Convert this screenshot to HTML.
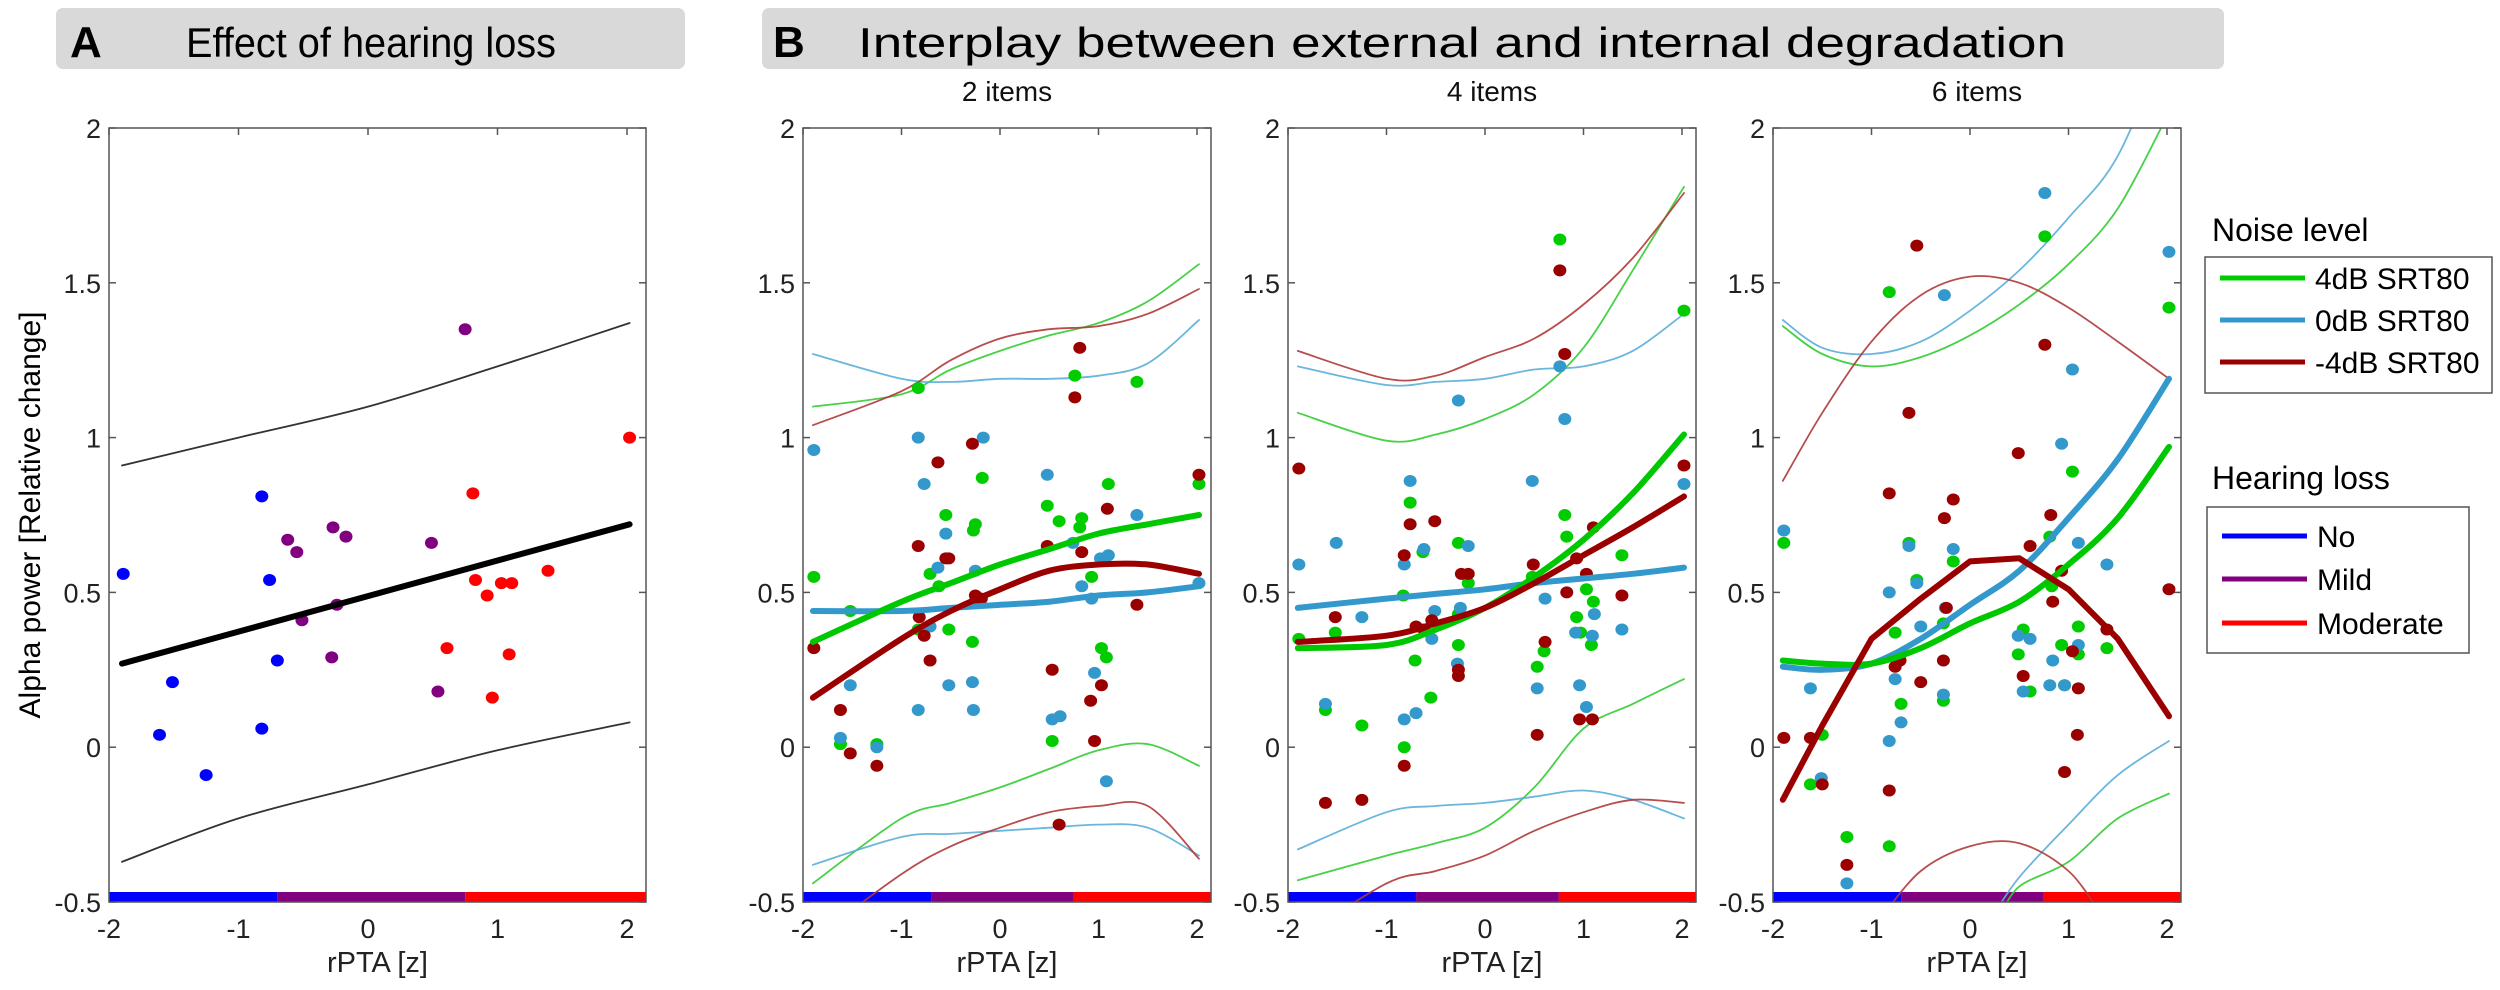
<!DOCTYPE html>
<html><head><meta charset="utf-8"><style>
html,body{margin:0;padding:0;background:#fff;overflow:hidden;width:2500px;height:990px;}
svg{display:block;font-family:"Liberation Sans",Arial,sans-serif;}
</style></head><body>
<svg id="fig" width="2500" height="990" viewBox="0 0 2500 990" xmlns="http://www.w3.org/2000/svg">
  <defs>
    <clipPath id="clipA"><rect x="109" y="128" width="537" height="774"/></clipPath>
    <clipPath id="clip1"><rect x="803" y="128" width="408" height="774"/></clipPath>
    <clipPath id="clip2"><rect x="1288" y="128" width="408" height="774"/></clipPath>
    <clipPath id="clip3"><rect x="1773" y="128" width="408" height="774"/></clipPath>
  </defs>
  <g>
    <rect x="56" y="8" width="629" height="61" rx="7" fill="#d9d9d9"/>
    <text x="70" y="57" font-size="44" font-weight="bold">A</text>
    <text x="186" y="57" font-size="42" textLength="370" lengthAdjust="spacingAndGlyphs">Effect of hearing loss</text>
  </g>
  <g>
    <rect x="762" y="8" width="1462" height="61" rx="7" fill="#d9d9d9"/>
    <text x="773" y="57" font-size="44" font-weight="bold">B</text>
    <text x="858" y="57" font-size="42" textLength="1208" lengthAdjust="spacingAndGlyphs">Interplay between external and internal degradation</text>
  </g>
  <text transform="translate(40,515) rotate(-90)" font-size="30" text-anchor="middle">Alpha power [Relative change]</text>
  <g id="plots"></g>
  <g>
    <text x="2212" y="241" font-size="32">Noise level</text>
    <rect x="2205" y="257" width="287" height="136" fill="#fff" stroke="#555" stroke-width="1.5"/>
    <line x1="2220" y1="278" x2="2305" y2="278" stroke="#00cc00" stroke-width="5"/>
    <text x="2315" y="289" font-size="30">4dB SRT80</text>
    <line x1="2220" y1="320" x2="2305" y2="320" stroke="#3399cc" stroke-width="5"/>
    <text x="2315" y="331" font-size="30">0dB SRT80</text>
    <line x1="2220" y1="362" x2="2305" y2="362" stroke="#990000" stroke-width="5"/>
    <text x="2315" y="373" font-size="30">-4dB SRT80</text>
  </g>
  <g>
    <text x="2212" y="489" font-size="32">Hearing loss</text>
    <rect x="2207" y="507" width="262" height="146" fill="#fff" stroke="#555" stroke-width="1.5"/>
    <line x1="2222" y1="536" x2="2307" y2="536" stroke="#0000ff" stroke-width="5"/>
    <text x="2317" y="547" font-size="30">No</text>
    <line x1="2222" y1="579" x2="2307" y2="579" stroke="#800080" stroke-width="5"/>
    <text x="2317" y="590" font-size="30">Mild</text>
    <line x1="2222" y1="623" x2="2307" y2="623" stroke="#ff0000" stroke-width="5"/>
    <text x="2317" y="634" font-size="30">Moderate</text>
  </g>
</svg>
<script>
// ---------- data ----------
const yTicks = [-0.5, 0, 0.5, 1, 1.5, 2];
const yTickLabels = ["-0.5", "0", "0.5", "1", "1.5", "2"];
const xTicks = [-2, -1, 0, 1, 2];
const xTickLabels = ["-2", "-1", "0", "1", "2"];
const hearingBreaks = [-0.7, 0.75];
const subplotTitles = ["2 items", "4 items", "6 items"];

// Panel A
const aNoX = [-1.89, -0.82, -0.76, -0.70, -1.51, -1.61, -0.82, -1.25];
const aNoY = [0.56, 0.81, 0.54, 0.28, 0.21, 0.04, 0.06, -0.09];
const aMildX = [0.75, -0.27, -0.17, -0.62, -0.55, 0.49, -0.24, -0.51, -0.28, 0.54];
const aMildY = [1.35, 0.71, 0.68, 0.67, 0.63, 0.66, 0.46, 0.41, 0.29, 0.18];
const aModX = [2.02, 0.81, 0.83, 0.92, 1.03, 1.11, 1.39, 0.61, 1.09, 0.96];
const aModY = [1.00, 0.82, 0.54, 0.49, 0.53, 0.53, 0.57, 0.32, 0.30, 0.16];
const aFitX = [-1.9, 2.02];
const aFitY = [0.27, 0.72];
const aCiX = [-1.9, -1, 0, 1, 2.02];
const aCiUpper = [0.91, 1.00, 1.10, 1.23, 1.37];
const aCiLower = [-0.37, -0.23, -0.12, -0.01, 0.08];

// Panel B, plot 1 (2 items)
const p1GreenX = [-0.83, 0.76, 1.39, -0.18, 1.10, 2.02, 0.48, 0.60, 0.83, 0.81, -0.55, -0.25, -0.27, -1.89, -0.71, -0.62, 0.93, -1.52, -0.83, -0.52, -0.28, 1.03, 1.08, -1.62, -1.25, 0.53];
const p1GreenY = [1.16, 1.20, 1.18, 0.87, 0.85, 0.85, 0.78, 0.73, 0.74, 0.71, 0.75, 0.72, 0.70, 0.55, 0.56, 0.52, 0.55, 0.44, 0.38, 0.38, 0.34, 0.32, 0.29, 0.01, 0.01, 0.02];
const p1BlueX = [-1.89, -0.83, -0.17, -0.77, 0.48, -0.55, -0.63, -0.25, 0.74, 1.02, 1.10, 1.39, 0.83, 0.93, 2.02, -0.71, -1.52, -0.52, -0.28, -0.83, -0.27, -1.62, -1.25, 0.53, 0.61, 0.96, 1.08];
const p1BlueY = [0.96, 1.00, 1.00, 0.85, 0.88, 0.69, 0.58, 0.57, 0.66, 0.61, 0.62, 0.75, 0.52, 0.48, 0.53, 0.39, 0.20, 0.20, 0.21, 0.12, 0.12, 0.03, 0.00, 0.09, 0.10, 0.24, -0.11];
const p1RedX = [0.81, 0.76, -0.28, -0.63, 2.02, 1.09, -0.83, 0.48, -0.55, -0.52, 0.83, -0.25, -0.19, -0.25, 1.39, -0.82, -0.77, -1.89, -0.71, 0.53, 1.03, 0.92, -1.62, -1.52, -1.25, 0.96, 0.60];
const p1RedY = [1.29, 1.13, 0.98, 0.92, 0.88, 0.77, 0.65, 0.65, 0.61, 0.61, 0.63, 0.49, 0.48, 0.47, 0.46, 0.42, 0.36, 0.32, 0.28, 0.25, 0.20, 0.15, 0.12, -0.02, -0.06, 0.02, -0.25];
const p1FitX = [-1.9, -1, -0.5, 0, 0.5, 1, 1.5, 2.02];
const p1GreenFit = [0.34, 0.47, 0.53, 0.59, 0.64, 0.69, 0.72, 0.75];
const p1BlueFit = [0.44, 0.44, 0.45, 0.46, 0.47, 0.49, 0.50, 0.52];
const p1RedFit = [0.16, 0.35, 0.44, 0.51, 0.57, 0.59, 0.59, 0.56];
const p1GreenUp = [1.10, 1.14, 1.22, 1.28, 1.33, 1.37, 1.44, 1.56];
const p1RedUp = [1.04, 1.15, 1.25, 1.32, 1.35, 1.36, 1.40, 1.48];
const p1BlueUp = [1.27, 1.19, 1.18, 1.19, 1.19, 1.20, 1.24, 1.38];
const p1GreenLo = [-0.44, -0.23, -0.18, -0.13, -0.07, -0.01, 0.01, -0.06];
const p1RedLo = [-0.62, -0.41, -0.32, -0.26, -0.21, -0.19, -0.19, -0.36];
const p1BlueLo = [-0.38, -0.29, -0.28, -0.27, -0.26, -0.25, -0.26, -0.35];

// Panel B, plot 2 (4 items)
const p2GreenX = [0.76, 2.02, 0.81, -0.76, 0.83, -0.27, -0.63, 1.39, 0.48, -0.17, 1.03, 1.10, -0.83, -1.89, -1.52, -0.27, 0.93, 0.97, 1.08, -0.27, -0.71, 0.60, 0.53, -0.55, -1.62, -1.25, -0.82];
const p2GreenY = [1.64, 1.41, 0.75, 0.79, 0.68, 0.66, 0.63, 0.62, 0.55, 0.53, 0.51, 0.47, 0.49, 0.35, 0.37, 0.43, 0.42, 0.37, 0.33, 0.33, 0.28, 0.31, 0.26, 0.16, 0.12, 0.07, 0.00];
const p2BlueX = [0.76, -0.27, 0.81, 2.02, 0.48, -0.76, -1.51, -0.17, -0.62, -1.89, -0.82, -0.51, -0.25, 0.61, -1.25, 1.11, 0.92, 1.09, 1.39, -0.54, -0.28, 0.53, 0.96, 1.03, -1.62, -0.82, -0.70];
const p2BlueY = [1.23, 1.12, 1.06, 0.85, 0.86, 0.86, 0.66, 0.65, 0.64, 0.59, 0.59, 0.44, 0.45, 0.48, 0.42, 0.43, 0.37, 0.36, 0.38, 0.35, 0.27, 0.19, 0.20, 0.13, 0.14, 0.09, 0.11];
const p2RedX = [0.76, 0.81, 2.02, -1.89, -0.76, -0.51, 1.10, -0.82, 0.93, 0.49, -0.24, -0.17, 1.03, 0.83, 1.39, -1.52, -0.70, -0.54, -0.62, 0.61, -0.27, -0.27, 0.96, 1.09, 0.53, -0.82, -1.62, -1.25];
const p2RedY = [1.54, 1.27, 0.91, 0.90, 0.72, 0.73, 0.71, 0.62, 0.61, 0.59, 0.56, 0.56, 0.56, 0.50, 0.49, 0.42, 0.39, 0.41, 0.38, 0.34, 0.25, 0.23, 0.09, 0.09, 0.04, -0.06, -0.18, -0.17];
const p2FitX = [-1.9, -1, -0.5, 0, 0.5, 1, 1.5, 2.02];
const p2GreenFit = [0.32, 0.33, 0.38, 0.45, 0.55, 0.67, 0.82, 1.01];
const p2BlueFit = [0.45, 0.48, 0.495, 0.51, 0.53, 0.545, 0.56, 0.58];
const p2RedFit = [0.34, 0.36, 0.40, 0.45, 0.53, 0.62, 0.71, 0.81];
const p2GreenUp = [1.08, 0.99, 1.01, 1.06, 1.14, 1.29, 1.54, 1.81];
const p2RedUp = [1.28, 1.19, 1.20, 1.26, 1.32, 1.43, 1.58, 1.79];
const p2BlueUp = [1.23, 1.17, 1.18, 1.19, 1.22, 1.23, 1.28, 1.40];
const p2GreenLo = [-0.43, -0.35, -0.31, -0.26, -0.13, 0.06, 0.14, 0.22];
const p2RedLo = [-0.62, -0.44, -0.40, -0.35, -0.27, -0.21, -0.17, -0.18];
const p2BlueLo = [-0.33, -0.21, -0.19, -0.18, -0.16, -0.14, -0.17, -0.23];

// Panel B, plot 3 (6 items)
const p3GreenX = [0.76, 2.02, -0.82, 1.04, -1.89, -0.62, -0.17, 0.81, -0.54, 0.83, 1.10, -0.27, -0.76, 0.54, 0.93, 1.39, 0.49, 1.10, -0.70, -0.27, 0.61, 0.96, -1.50, -1.62, -1.25, -0.82];
const p3GreenY = [1.65, 1.42, 1.47, 0.89, 0.66, 0.66, 0.60, 0.68, 0.54, 0.52, 0.39, 0.40, 0.37, 0.38, 0.33, 0.32, 0.30, 0.30, 0.14, 0.15, 0.18, 0.20, 0.04, -0.12, -0.29, -0.32];
const p3BlueX = [0.76, 2.02, -0.26, 1.04, 0.93, -1.89, -0.62, -0.17, 1.10, 1.39, -0.82, -0.54, -0.50, -0.25, 0.49, 0.61, 1.10, 0.84, -0.76, -1.62, 0.54, 0.81, 0.96, -0.27, -0.70, -0.82, -1.51, -1.25];
const p3BlueY = [1.79, 1.60, 1.46, 1.22, 0.98, 0.70, 0.65, 0.64, 0.66, 0.59, 0.50, 0.53, 0.39, 0.45, 0.36, 0.35, 0.33, 0.28, 0.22, 0.19, 0.18, 0.20, 0.20, 0.17, 0.08, 0.02, -0.10, -0.44];
const p3RedX = [-0.54, 0.76, -0.62, 0.49, -0.82, -0.17, -0.26, 0.82, 0.61, 0.93, 2.02, -0.24, 0.84, 1.39, -0.71, -0.76, -0.27, 1.04, 0.54, -0.50, 1.10, -1.89, -1.62, 1.09, -1.50, -0.82, 0.96, -1.25];
const p3RedY = [1.62, 1.30, 1.08, 0.95, 0.82, 0.80, 0.74, 0.75, 0.65, 0.57, 0.51, 0.45, 0.47, 0.38, 0.28, 0.26, 0.28, 0.31, 0.23, 0.21, 0.19, 0.03, 0.03, 0.04, -0.12, -0.14, -0.08, -0.38];
const p3FitX = [-1.9, -1.5, -1, -0.5, 0, 0.5, 1, 1.5, 2.02];
const p3GreenFit = [0.28, 0.27, 0.27, 0.32, 0.40, 0.47, 0.59, 0.74, 0.97];
const p3BlueFit = [0.26, 0.25, 0.27, 0.35, 0.46, 0.57, 0.74, 0.93, 1.19];
const p3RedFit = [-0.17, 0.07, 0.35, 0.48, 0.60, 0.61, 0.51, 0.35, 0.10];
const p3GreenUp = [1.36, 1.27, 1.23, 1.26, 1.33, 1.43, 1.56, 1.74, 2.05];
const p3RedUp = [0.86, 1.08, 1.31, 1.46, 1.52, 1.50, 1.42, 1.31, 1.19];
const p3BlueUp = [1.38, 1.29, 1.27, 1.31, 1.41, 1.54, 1.71, 1.91, 2.30];
const p3GreenLoX = [0.3, 0.5, 1, 1.5, 2.02];
const p3GreenLo = [-0.55, -0.45, -0.37, -0.23, -0.15];
const p3BlueLoX = [0.2, 0.5, 1, 1.5, 2.02];
const p3BlueLo = [-0.56, -0.42, -0.25, -0.09, 0.02];
const p3RedLoX = [-0.9, -0.5, 0, 0.5, 1, 1.35];
const p3RedLo = [-0.55, -0.40, -0.32, -0.31, -0.40, -0.55];

// ---------- drawing ----------
const NS = "http://www.w3.org/2000/svg";
const root = document.getElementById("plots");
const TOP = 128, BOTTOM = 902;
const YMIN = -0.5, YMAX = 2;
function sy(v) { return BOTTOM - (v - YMIN) * (BOTTOM - TOP) / (YMAX - YMIN); }
function mk(tag, attrs, parent) {
  const el = document.createElementNS(NS, tag);
  for (const k in attrs) el.setAttribute(k, attrs[k]);
  (parent || root).appendChild(el);
  return el;
}
const GREEN = "#00c800", BLUE = "#3399cc", DRED = "#9a0000";

function makeAxes(cfg) {
  const g = mk("g", {});
  
  
  const sx = v => cfg.left + (v - cfg.xmin) * cfg.unit;
  const right = cfg.left + cfg.width;
  cfg.sx = sx; cfg.g = g; cfg.right = right;
  const bg = mk("rect", {x: cfg.left, y: TOP, width: cfg.width, height: BOTTOM - TOP, fill: "#fff", stroke: "none"}, g);
  
  
  yTicks.forEach((t, i) => {
    const y = sy(t);
    const tl = mk("line", {x1: cfg.left, y1: y, x2: cfg.left + 7, y2: y, stroke: "#555", "stroke-width": 1.5}, g);
    
    
    const tr = mk("line", {x1: right, y1: y, x2: right - 7, y2: y, stroke: "#555", "stroke-width": 1.5}, g);
    
    
    const lb = mk("text", {x: cfg.left - 8, y: y + 10, "font-size": 27, "text-anchor": "end", fill: "#222"}, g);
    lb.textContent = yTickLabels[i];
    
    
  });
  xTicks.forEach((t, i) => {
    const x = sx(t);
    const tt = mk("line", {x1: x, y1: TOP, x2: x, y2: TOP + 7, stroke: "#555", "stroke-width": 1.5}, g);
    
    
    const lb = mk("text", {x: x, y: 938, "font-size": 27, "text-anchor": "middle", fill: "#222"}, g);
    lb.textContent = xTickLabels[i];
    
    
  });
  const xt = mk("text", {x: (cfg.left + right) / 2, y: 972, "font-size": 29, "text-anchor": "middle", fill: "#222"}, g);
  xt.textContent = "rPTA [z]";
  
  
  if (cfg.title) {
    const st = mk("text", {x: (cfg.left + right) / 2, y: 101, "font-size": 28, "text-anchor": "middle", fill: "#111"}, g);
    st.textContent = cfg.title;
    
    
  }
  const edges = [cfg.xmin, hearingBreaks[0], hearingBreaks[1], cfg.xmin + cfg.width / cfg.unit];
  const cols = ["#0000ff", "#800080", "#ff0000"];
  const names = ['hearing-bar-no', 'hearing-bar-mild', 'hearing-bar-moderate'];
  for (let i = 0; i < 3; i++) {
    const r = mk("rect", {x: sx(edges[i]), y: BOTTOM - 10, width: sx(edges[i + 1]) - sx(edges[i]), height: 10, fill: cols[i]}, g);
    
    
  }
  return cfg;
}
function frame(cfg) {
  const f = mk("rect", {x: cfg.left, y: TOP, width: cfg.width, height: BOTTOM - TOP, fill: "none", stroke: "#555", "stroke-width": 1.5}, cfg.g);
  
  
}
function pathD(pts, smooth) {
  if (!smooth || pts.length < 3) return pts.map((p, i) => (i ? "L" : "M") + p[0].toFixed(1) + "," + p[1].toFixed(1)).join(" ");
  let d = "M" + pts[0][0].toFixed(1) + "," + pts[0][1].toFixed(1);
  for (let i = 0; i < pts.length - 1; i++) {
    const p0 = pts[Math.max(0, i - 1)], p1 = pts[i], p2 = pts[i + 1], p3 = pts[Math.min(pts.length - 1, i + 2)];
    const c1x = p1[0] + (p2[0] - p0[0]) / 6, c1y = p1[1] + (p2[1] - p0[1]) / 6;
    const c2x = p2[0] - (p3[0] - p1[0]) / 6, c2y = p2[1] - (p3[1] - p1[1]) / 6;
    d += " C" + c1x.toFixed(1) + "," + c1y.toFixed(1) + " " + c2x.toFixed(1) + "," + c2y.toFixed(1) + " " + p2[0].toFixed(1) + "," + p2[1].toFixed(1);
  }
  return d;
}
function curve(cfg, xs, ys, color, w, name, op, straight) {
  const pts = xs.map((x, i) => [cfg.sx(x), sy(ys[i])]);
  const p = mk("path", {d: pathD(pts, !straight), fill: "none", stroke: color, "stroke-width": w, "stroke-linejoin": "round", "stroke-linecap": "round", "clip-path": "url(#" + cfg.clip + ")", opacity: op || 1}, cfg.g);
  
  
}
function dots(cfg, xs, ys, color, name) {
  xs.forEach((x, i) => {
    const c = mk("ellipse", {cx: cfg.sx(x), cy: sy(ys[i]), rx: 6.5, ry: 6, fill: color}, cfg.g);
    
    
  });
}

// Panel A
const A = makeAxes({name: 'panel-a-axes', left: 109, width: 537, unit: 129.5, xmin: -2, clip: 'clipA'});
curve(A, aCiX, aCiUpper, "#333", 1.8, 'ci-upper-line');
curve(A, aCiX, aCiLower, "#333", 1.8, 'ci-lower-line');
dots(A, aNoX, aNoY, "#0000ff", 'point-no-hearing-loss');
dots(A, aMildX, aMildY, "#800080", 'point-mild-hearing-loss');
dots(A, aModX, aModY, "#ff0000", 'point-moderate-hearing-loss');
curve(A, aFitX, aFitY, "#000", 6, 'fit-line');
frame(A);

// Panel B
const plots = [
  {left: 803, clip: 'clip1', gx: p1GreenX, gy: p1GreenY, bx: p1BlueX, by: p1BlueY, rx: p1RedX, ry: p1RedY, fx: p1FitX, gf: p1GreenFit, bf: p1BlueFit, rf: p1RedFit, gu: p1GreenUp, ru: p1RedUp, bu: p1BlueUp, glx: p1FitX, gl: p1GreenLo, rlx: p1FitX, rl: p1RedLo, blx: p1FitX, bl: p1BlueLo, redStraight: false},
  {left: 1288, clip: 'clip2', gx: p2GreenX, gy: p2GreenY, bx: p2BlueX, by: p2BlueY, rx: p2RedX, ry: p2RedY, fx: p2FitX, gf: p2GreenFit, bf: p2BlueFit, rf: p2RedFit, gu: p2GreenUp, ru: p2RedUp, bu: p2BlueUp, glx: p2FitX, gl: p2GreenLo, rlx: p2FitX, rl: p2RedLo, blx: p2FitX, bl: p2BlueLo, redStraight: false},
  {left: 1773, clip: 'clip3', gx: p3GreenX, gy: p3GreenY, bx: p3BlueX, by: p3BlueY, rx: p3RedX, ry: p3RedY, fx: p3FitX, gf: p3GreenFit, bf: p3BlueFit, rf: p3RedFit, gu: p3GreenUp, ru: p3RedUp, bu: p3BlueUp, glx: p3GreenLoX, gl: p3GreenLo, rlx: p3RedLoX, rl: p3RedLo, blx: p3BlueLoX, bl: p3BlueLo, redStraight: true}
];
plots.forEach((p, k) => {
  const c = makeAxes({name: 'panel-b-plot-' + (k + 1), left: p.left, width: 408, unit: 98.5, xmin: -2, clip: p.clip, title: subplotTitles[k]});
  curve(c, p.fx, p.gu, "#33cc33", 1.8, 'ci-4db-upper', 0.9);
  curve(c, p.glx, p.gl, "#33cc33", 1.8, 'ci-4db-lower', 0.9);
  curve(c, p.fx, p.bu, "#5aaed9", 1.8, 'ci-0db-upper', 0.9);
  curve(c, p.blx, p.bl, "#5aaed9", 1.8, 'ci-0db-lower', 0.9);
  curve(c, p.fx, p.ru, "#b03a3a", 1.8, 'ci-minus4db-upper', 0.9);
  curve(c, p.rlx, p.rl, "#b03a3a", 1.8, 'ci-minus4db-lower', 0.9);
  dots(c, p.gx, p.gy, "#00cc00", 'point-4db');
  dots(c, p.bx, p.by, BLUE, 'point-0db');
  dots(c, p.rx, p.ry, DRED, 'point-minus4db');
  curve(c, p.fx, p.bf, BLUE, 6, 'fit-0db');
  curve(c, p.fx, p.gf, GREEN, 6, 'fit-4db');
  curve(c, p.fx, p.rf, DRED, 6, 'fit-minus4db', 1, p.redStraight);
  frame(c);
});
</script>
</body></html>
